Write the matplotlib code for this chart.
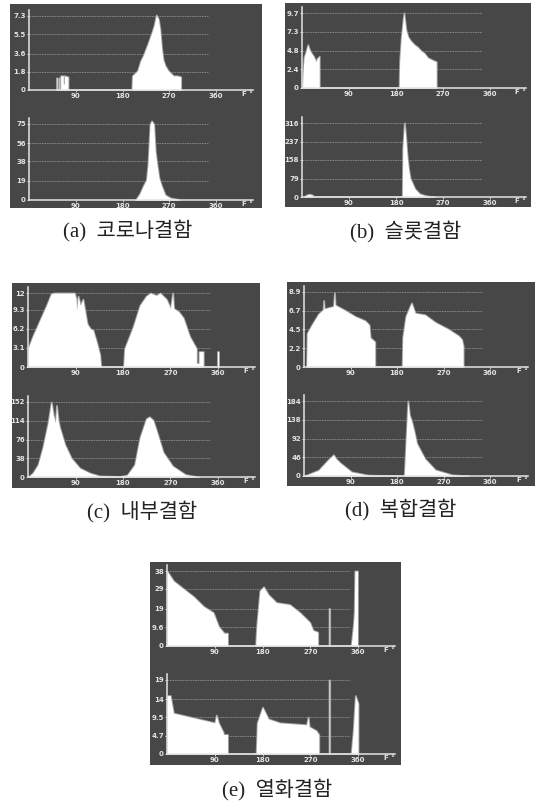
import matplotlib
matplotlib.use('Agg')
import matplotlib.pyplot as plt

W, H = 536, 802
BG = '#474747'
FG = '#e4e4e4'
GRID = '#8c8c8c'
CAP_FONT = ['Liberation Serif', 'Noto Sans CJK KR', 'DejaVu Sans']

x_ticks = [90, 180, 270, 360]

# (a) corona
a_up_ticks = [0, 1.8, 3.6, 5.5, 7.3]
a_up_labels = ['0', '1.8', '3.6', '5.5', '7.3']
a_up_phase = [53, 53, 54, 54, 58, 58, 59, 59, 61, 61, 66, 66, 68, 68, 75, 75, 198, 199, 209, 215, 220, 229, 236, 241, 245, 249, 252, 255, 258, 262, 268, 278, 285, 292, 292]
a_up_amp = [0, 1.2, 1.2, 0, 0, 1.2, 1.2, 0, 0, 1.4, 1.4, 0.6, 0.6, 1.4, 1.3, 0, 0, 1.4, 1.9, 2.9, 3.4, 4.6, 5.6, 6.4, 7.4, 7.0, 6.0, 4.2, 3.0, 2.4, 1.9, 1.4, 1.4, 1.3, 0]
a_lo_ticks = [0, 19, 38, 56, 75]
a_lo_labels = ['0', '19', '38', '56', '75']
a_lo_phase = [205, 213, 220, 226, 229, 233, 236, 240, 243, 245, 250, 255, 262, 272, 284, 290]
a_lo_amp = [0, 6, 14, 20, 35, 75, 78, 75, 48, 40, 22, 14, 5, 2, 1, 0]

# (b) slot
b_up_ticks = [0, 2.4, 4.8, 7.3, 9.7]
b_up_labels = ['0', '2.4', '4.8', '7.3', '9.7']
b_up_phase = [1, 2, 4, 8, 11, 14, 17, 22, 27, 29, 33, 33, 186, 187, 190, 195, 199, 203, 208, 215, 221, 228, 234, 241, 250, 257, 257]
b_up_amp = [0, 2.0, 4.0, 4.8, 5.6, 5.0, 4.6, 4.1, 3.4, 3.8, 4.1, 0, 0, 3.5, 6.5, 9.7, 7.5, 6.6, 6.1, 5.6, 5.3, 4.8, 4.5, 3.9, 3.6, 3.4, 0]
b_lo_ticks = [0, 79, 158, 237, 316]
b_lo_labels = ['0', '79', '158', '237', '316']
b_lo_phase = [4, 8, 14, 20, 22, 192, 193, 196, 198, 201, 204, 207, 212, 216, 225, 233, 241, 254]
b_lo_amp = [0, 8, 12, 8, 0, 0, 210, 316, 270, 180, 120, 80, 55, 35, 14, 8, 4, 0]

# (c) internal
c_up_ticks = [0, 3.1, 6.2, 9.3, 12]
c_up_labels = ['0', '3.1', '6.2', '9.3', '12']
c_up_phase = [0, 9, 22, 35, 44, 50, 88, 91, 92, 95, 99, 104, 108, 112, 118, 123, 130, 136, 138, 181, 183, 199, 212, 224, 232, 243, 250, 262, 270, 274, 276, 285, 294, 306, 319, 319, 324, 324, 332, 332, 359, 359, 361, 361]
c_up_amp = [3.0, 5, 7.5, 10, 11.9, 12, 12, 11, 9.2, 11.5, 10, 11, 9, 7, 6.2, 6, 4, 2, 0, 0, 3, 6.5, 10, 11.5, 12, 11.6, 12, 11, 9.5, 12, 9.5, 9.0, 8, 5, 3, 0.6, 0.6, 2.5, 2.5, 0, 0, 2.5, 2.5, 0]
c_lo_ticks = [0, 38, 76, 114, 152]
c_lo_labels = ['0', '38', '76', '114', '152']
c_lo_phase = [0, 9, 19, 28, 38, 44, 48, 52, 54, 57, 60, 70, 82, 98, 117, 136, 174, 188, 202, 212, 224, 230, 237, 246, 256, 274, 298, 323]
c_lo_amp = [0, 8, 25, 60, 110, 152, 125, 110, 145, 115, 100, 65, 38, 18, 8, 2, 1, 4, 25, 80, 118, 122, 115, 85, 50, 22, 5, 0]

# (d) combined
d_up_ticks = [0, 2.2, 4.5, 6.7, 8.9]
d_up_labels = ['0', '2.2', '4.5', '6.7', '8.9']
d_up_phase = [5, 6, 15, 28, 37, 38, 39, 57, 59, 60, 62, 80, 99, 118, 126, 128, 137, 137, 190, 191, 197, 205, 208, 215, 234, 254, 279, 299, 305, 308, 308]
d_up_amp = [0, 4, 5, 6.3, 6.8, 7.9, 6.9, 7.2, 8.8, 7.4, 7.3, 6.7, 6.0, 5.5, 5.0, 3.5, 3.0, 0, 0, 3.5, 6, 7.2, 7.6, 6.4, 6.2, 5.3, 4.5, 3.7, 3.3, 2.5, 0]
d_lo_ticks = [0, 46, 92, 138, 184]
d_lo_labels = ['0', '46', '92', '138', '184']
d_lo_phase = [0, 28, 47, 57, 62, 70, 92, 125, 189, 194, 195, 201, 204, 208, 213, 218, 234, 254, 286, 318]
d_lo_amp = [0, 14, 40, 52, 42, 32, 10, 2, 0, 0, 25, 184, 150, 135, 110, 80, 42, 15, 3, 0]

# (e) ageing
e_up_ticks = [0, 9.6, 19, 29, 38]
e_up_labels = ['0', '9.6', '19', '29', '38']
e_up_phase = [0, 12, 31, 50, 69, 87, 97, 106, 106, 114, 114, 167, 169, 175, 182, 191, 206, 231, 250, 269, 275, 284, 284, 305.5, 305.5, 306.5, 306.5, 347, 351, 353, 354, 359, 359]
e_up_amp = [38, 33, 29, 25, 20, 17, 10, 7, 6.5, 6.5, 0, 0, 10, 28, 30, 26, 22, 21, 17, 12, 8, 7, 0, 0, 19, 19, 0, 0, 10, 17, 38, 38, 0]
e_lo_ticks = [0, 4.7, 9.5, 14, 19]
e_lo_labels = ['0', '4.7', '9.5', '14', '19']
e_lo_phase = [0, 6, 12, 37, 75, 90, 93, 97, 106, 106, 114, 114, 168, 170, 180, 191, 213, 263, 266, 268, 281, 286, 286, 305.5, 305.5, 306.5, 306.5, 347, 351, 355, 360, 360]
e_lo_amp = [15, 15, 10.5, 9.7, 8.5, 8, 10, 8, 5.5, 5, 5, 0, 0, 8, 12, 9, 8, 7.5, 9.5, 7, 6, 5, 0, 0, 19, 19, 0, 0, 6, 15, 13, 0]


def to_rect(x0, y0, x1, y1):
    # pixel box (y down) to figure fraction
    return [x0 / W, 1 - y1 / H, (x1 - x0) / W, (y1 - y0) / H]


def draw_hist(fig, phase, amp, ticks, labels, x0, x360, xend, y_axis, y_top_tick):
    y_top = y_top_tick - 6
    ax = fig.add_axes(to_rect(x0, y_top, xend, y_axis))
    ax.patch.set_alpha(0)
    ax.set_xlim(0, 360 * (xend - x0) / (x360 - x0))
    ax.set_ylim(0, ticks[-1] * (y_axis - y_top) / (y_axis - y_top_tick))
    for t in ticks[1:]:
        ax.plot([0, 345], [t, t], color=GRID, lw=0.6, ls=(0, (2, 1)), zorder=1)
    # grey edge first, the scan of the original is soft
    ax.fill_between(phase, amp, color='#a0a0a0', lw=1.4, zorder=2)
    ax.fill_between(phase, amp, color='white', lw=0, zorder=3)
    for s in ['top', 'right']:
        ax.spines[s].set_visible(False)
    for s in ['left', 'bottom']:
        ax.spines[s].set_color(FG)
        ax.spines[s].set_linewidth(1.1)
        ax.spines[s].set_zorder(4)
    ax.set_xticks(x_ticks)
    ax.set_xticklabels([str(v) for v in x_ticks])
    ax.set_yticks(ticks)
    ax.set_yticklabels(labels)
    ax.tick_params(colors=FG, labelsize=5, length=1.2, width=0.6, pad=1)
    for lab in ax.get_xticklabels() + ax.get_yticklabels():
        lab.set_fontweight('bold')
    ax.text(0.975, -0.05, 'F °', transform=ax.transAxes, color=FG, fontsize=5,
            fontweight='bold', ha='center', va='center')


def panel(fig, box, caption, cap_xy, x0, x360, xend, upper, lower):
    bg = fig.add_axes(to_rect(*box))
    bg.set_facecolor(BG)
    bg.set_xticks([])
    bg.set_yticks([])
    for s in bg.spines.values():
        s.set_visible(False)
    draw_hist(fig, *upper[:4], x0, x360, xend, *upper[4:])
    draw_hist(fig, *lower[:4], x0, x360, xend, *lower[4:])
    fig.text(cap_xy[0] / W, 1 - cap_xy[1] / H, caption, family=CAP_FONT, fontsize=15,
             color='#222222', ha='center', va='center')


fig = plt.figure(figsize=(W / 100, H / 100), dpi=100)

panel(fig, (10, 4, 262, 208), '(a)  코로나결함', (128, 231), 29, 216, 253,
      (a_up_phase, a_up_amp, a_up_ticks, a_up_labels, 90, 16),
      (a_lo_phase, a_lo_amp, a_lo_ticks, a_lo_labels, 200, 124))
panel(fig, (285, 3, 531, 207), '(b)  슬롯결함', (406, 232), 302, 490, 526,
      (b_up_phase, b_up_amp, b_up_ticks, b_up_labels, 88, 13),
      (b_lo_phase, b_lo_amp, b_lo_ticks, b_lo_labels, 197, 123))
panel(fig, (12, 283, 260, 488), '(c)  내부결함', (142, 512), 28, 218, 255,
      (c_up_phase, c_up_amp, c_up_ticks, c_up_labels, 367, 293),
      (c_lo_phase, c_lo_amp, c_lo_ticks, c_lo_labels, 477, 402))
panel(fig, (287, 282, 535, 486), '(d)  복합결함', (401, 510), 304, 490, 528,
      (d_up_phase, d_up_amp, d_up_ticks, d_up_labels, 367, 292),
      (d_lo_phase, d_lo_amp, d_lo_ticks, d_lo_labels, 476, 401))
panel(fig, (150, 562, 401, 765), '(e)  열화결함', (277, 790), 167, 358, 395,
      (e_up_phase, e_up_amp, e_up_ticks, e_up_labels, 646, 571),
      (e_lo_phase, e_lo_amp, e_lo_ticks, e_lo_labels, 754, 680))

fig.savefig('out.png', dpi=100, facecolor='white')
